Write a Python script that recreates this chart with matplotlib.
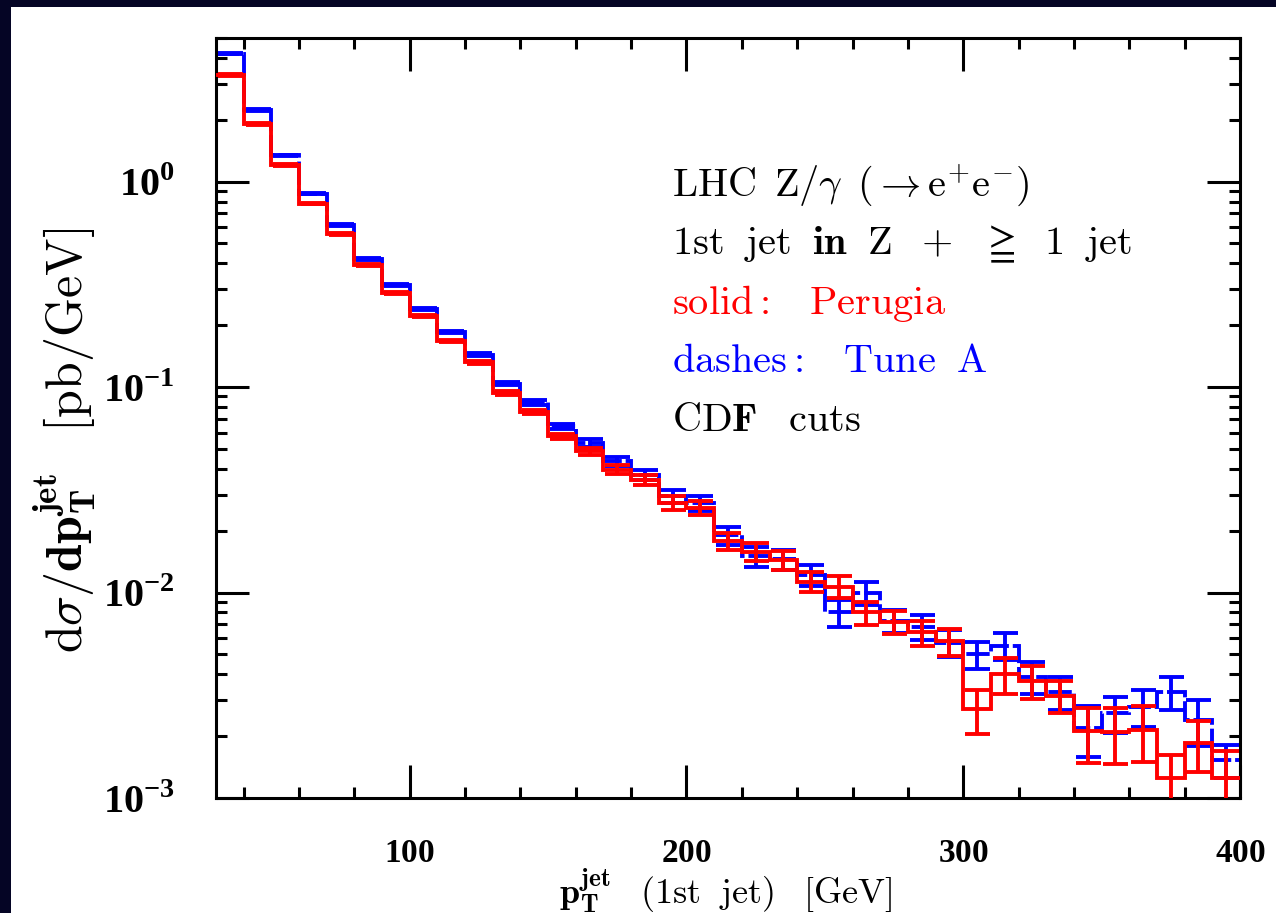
import numpy as np
import matplotlib
matplotlib.use("Agg")
import matplotlib.pyplot as plt
from matplotlib.patches import Rectangle
from matplotlib.ticker import FixedLocator, FixedFormatter, MultipleLocator, LogLocator, NullFormatter

plt.rcParams['mathtext.fontset'] = 'cm'
plt.rcParams['mathtext.rm'] = 'Liberation Serif'
plt.rcParams['mathtext.bf'] = 'Liberation Serif:bold'
plt.rcParams['font.family'] = ['DejaVu Serif']

# ---- data ----
bin_edges = np.arange(30, 410, 10)  # 30 .. 400 GeV, 10 GeV bins

perugia = [3.30, 1.90, 1.20, 0.782, 0.557, 0.394, 0.288, 0.221, 0.168, 0.132,
           0.0936, 0.0756, 0.0576, 0.0486, 0.0396, 0.0354, 0.0273, 0.0258, 0.0178, 0.0158,
           0.0144, 0.0113, 0.0107, 0.0080, 0.0072, 0.0064, 0.0058, 0.0027, 0.0040, 0.0037,
           0.00315, 0.00212, 0.0021, 0.00215, 0.00125, 0.00185, 0.00125]
perugia_relerr = [0.01, 0.01, 0.01, 0.01, 0.01, 0.01, 0.01, 0.012, 0.012, 0.015,
                  0.02, 0.025, 0.03, 0.04, 0.05, 0.06, 0.08, 0.08, 0.10, 0.10,
                  0.11, 0.11, 0.12, 0.13, 0.13, 0.14, 0.15, 0.24, 0.20, 0.18,
                  0.18, 0.30, 0.30, 0.30, 0.30, 0.28, 0.35]

tuneA = [4.20, 2.24, 1.34, 0.875, 0.614, 0.419, 0.315, 0.240, 0.185, 0.144,
         0.104, 0.0842, 0.0644, 0.0535, 0.0435, 0.0374, 0.0294, 0.0272, 0.0190, 0.0150,
         0.0145, 0.0122, 0.0080, 0.0100, 0.0073, 0.0068, 0.0057, 0.0050, 0.0055, 0.0039,
         0.00328, 0.0022, 0.00259, 0.00278, 0.00328, 0.00240, 0.00153]
tuneA_relerr = [0.01, 0.01, 0.01, 0.01, 0.01, 0.01, 0.01, 0.012, 0.012, 0.015,
                0.02, 0.025, 0.03, 0.04, 0.05, 0.06, 0.07, 0.08, 0.10, 0.11,
                0.11, 0.12, 0.15, 0.13, 0.13, 0.14, 0.15, 0.15, 0.15, 0.18,
                0.18, 0.28, 0.20, 0.20, 0.18, 0.25, 0.18]

x_major = [100, 200, 300, 400]
x_major_labels = [r'$\mathbf{100}$', r'$\mathbf{200}$', r'$\mathbf{300}$', r'$\mathbf{400}$']
y_major = [1e-3, 1e-2, 1e-1, 1e0]
y_major_labels = [r'$\mathbf{10}^{\mathbf{-3}}$', r'$\mathbf{10}^{\mathbf{-2}}$',
                  r'$\mathbf{10}^{\mathbf{-1}}$', r'$\mathbf{10}^{\mathbf{0}}$']

text_lines = [
    (r'$\mathrm{LHC\ \,Z/\gamma\ \,(\rightarrow e^{+}e^{-})}$', 'black'),
    (r'$\mathrm{1st\ \;jet\ \;}\mathbf{in}\mathrm{\ \;Z\ \;+\ \;}{\geqq}\mathrm{\ \;1\ \;jet}$', 'black'),
    (r'$\mathrm{solid{:}\ \;\;Perugia}$', '#ff0000'),
    (r'$\mathrm{dashes{:}\ \;\;Tune\ \;A}$', '#0000ff'),
    (r'$\mathrm{CD}\mathbf{F}\mathrm{\ \;\;cuts}$', 'black'),
]

# ---- figure ----
W, H = 1276, 913
fig = plt.figure(figsize=(W / 100, H / 100), dpi=100)
fig.patch.set_facecolor('#050525')
fig.add_artist(Rectangle((11 / W, 0), 1 - 11 / W, (H - 7) / H, transform=fig.transFigure,
                         facecolor='white', edgecolor='none', zorder=-5))

ax = fig.add_axes([216 / W, 1 - 798 / H, (1240 - 216) / W, (798 - 38) / H])
ax.set_facecolor('white')

centers = (bin_edges[:-1] + bin_edges[1:]) / 2
tA = np.array(tuneA)
pe = np.array(perugia)
tA_err = tA * np.array(tuneA_relerr)
pe_err = pe * np.array(perugia_relerr)

lw = 2.8
blue = '#0000ff'
red = '#ff0000'

ax.stairs(tA, bin_edges, baseline=None, color=blue, linewidth=lw,
          linestyle=(0, (6, 1.0)), zorder=2)
ax.errorbar(centers, tA, yerr=tA_err, fmt='none', ecolor=blue, elinewidth=lw,
            capsize=9, capthick=lw, zorder=2)
ax.stairs(pe, bin_edges, baseline=None, color=red, linewidth=lw, zorder=3)
ax.errorbar(centers, pe, yerr=pe_err, fmt='none', ecolor=red, elinewidth=lw,
            capsize=9, capthick=lw, zorder=3)

ax.set_yscale('log')
ax.set_xlim(30, 400)
ax.set_ylim(1e-3, 5)

ax.xaxis.set_major_locator(FixedLocator(x_major))
ax.xaxis.set_major_formatter(FixedFormatter(x_major_labels))
ax.xaxis.set_minor_locator(MultipleLocator(20))
ax.yaxis.set_major_locator(FixedLocator(y_major))
ax.yaxis.set_major_formatter(FixedFormatter(y_major_labels))
ax.yaxis.set_minor_locator(LogLocator(base=10, subs=np.arange(2, 10), numticks=20))
ax.yaxis.set_minor_formatter(NullFormatter())

ax.tick_params(which='both', direction='in', top=True, right=True, width=2.2, colors='black')
ax.tick_params(which='major', length=24)
ax.tick_params(which='minor', length=8)
ax.tick_params(axis='x', which='major', pad=28, labelsize=24)
ax.tick_params(axis='y', which='major', pad=30, labelsize=29)
for s in ax.spines.values():
    s.set_linewidth(2.2)
    s.set_color('black')

fig.canvas.draw()
for lab in ax.get_xticklabels() + ax.get_yticklabels():
    lab.set_math_fontfamily('custom')

ax.set_xlabel(r'$\mathbf{p}_{\mathbf{T}}^{\mathbf{jet}}\ \;\;\mathrm{(1st\ \;jet)\ \;\;[GeV]}$',
              fontsize=26, va='center')
ax.xaxis.set_label_coords(0.498, -0.122)
ax.set_ylabel(r'$\mathrm{d}\sigma/\mathbf{dp}_{\mathbf{T}}^{\mathbf{jet}}\ \;\;\mathrm{[pb/GeV]}$',
              fontsize=36, va='center')
ax.yaxis.set_label_coords(-0.148, 0.47)

y0 = 0.805
dy = 0.077
for i, (t, c) in enumerate(text_lines):
    ax.text(0.445, y0 - i * dy, t, transform=ax.transAxes, fontsize=29, color=c,
            ha='left', va='center')

fig.savefig('out.png', dpi=100, facecolor=fig.get_facecolor())
